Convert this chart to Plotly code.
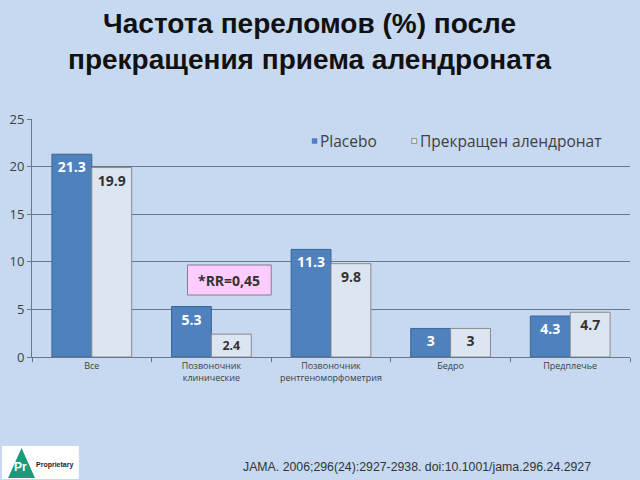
import plotly.graph_objects as go

categories = ["Все", "Позвоночник<br>клинические", "Позвоночник<br>рентгеноморфометрия", "Бедро", "Предплечье"]
placebo = [21.3, 5.3, 11.3, 3, 4.3]
stopped = [19.9, 2.4, 9.8, 3, 4.7]
placebo_labels = ["21.3", "5.3", "11.3", "3", "4.3"]
stopped_labels = ["19.9", "2.4", "9.8", "3", "4.7"]
series_names = ["Placebo", "Прекращен алендронат"]

BG = "#C6D9F1"
AX = "#6A7788"
C_PL = "#4F81BD"
C_ST = "#DCE6F2"

fig = go.Figure()
fig.add_trace(go.Bar(
    x=categories, y=placebo, name=series_names[0],
    marker=dict(color=C_PL, line=dict(color="#3A6598", width=1)),
    text=placebo_labels, textposition="inside", insidetextanchor="end",
    textfont=dict(color="white", size=14, family="Open Sans", weight="bold"),
    cliponaxis=False,
))
fig.add_trace(go.Bar(
    x=categories, y=stopped, name=series_names[1],
    marker=dict(color=C_ST, line=dict(color="#8A8A8A", width=1)),
    text=stopped_labels, textposition="inside", insidetextanchor="end",
    textfont=dict(color="#333333", size=14, family="Open Sans", weight="bold"),
    cliponaxis=False,
))

fig.update_layout(
    width=640, height=480,
    paper_bgcolor=BG, plot_bgcolor=BG,
    margin=dict(l=30, r=10, t=119, b=123),
    barmode="group", bargap=1/3, bargroupgap=0,
    showlegend=False,
)
fig.update_yaxes(range=[0, 25], dtick=5, showgrid=True, gridcolor=AX, gridwidth=1,
                 showline=True, linecolor=AX, ticks="outside", ticklen=4, tickcolor=AX,
                 tickfont=dict(size=13, color="#404040", family="Open Sans"), zeroline=False)
fig.update_xaxes(showline=True, linecolor=AX, ticks="outside", tickson="boundaries",
                 ticklen=4, tickcolor=AX,
                 tickfont=dict(size=9, color="#404040", family="Open Sans"))

def px(x):
    return (x - 30) / 600

def py(y):
    return (357 - y) / 238

def text(x, y, s, size, color, family, anchor="center"):
    fig.add_annotation(xref="paper", yref="paper", x=px(x), y=py(y),
                       xanchor=anchor, yanchor="middle", text=s, showarrow=False,
                       font=dict(size=size, color=color, family=family))

# Title
text(308, 41, "<b>Частота переломов (%) после<br>прекращения приема алендроната</b>",
     28, "#111111", "Liberation Sans")

# Legend (drawn manually)
fig.add_shape(type="rect", xref="paper", yref="paper",
              x0=px(311), x1=px(316), y0=py(143.5), y1=py(138.5),
              fillcolor=C_PL, line=dict(color=C_PL, width=0.5))
text(317, 141, series_names[0], 15.5, "#404040", "Open Sans", "left")
fig.add_shape(type="rect", xref="paper", yref="paper",
              x0=px(411), x1=px(416), y0=py(143.5), y1=py(138.5),
              fillcolor=C_ST, line=dict(color="#808080", width=0.8))
text(417, 141, series_names[1], 15.5, "#404040", "Open Sans", "left")

# RR box
fig.add_shape(type="rect", xref="paper", yref="paper",
              x0=px(186), x1=px(270), y0=py(295), y1=py(265),
              fillcolor="#FFCCFF", line=dict(color="#808080", width=1))
text(228, 280, "<b>*RR=0,45</b>", 14, "#333333", "Open Sans")

# Logo
fig.add_shape(type="rect", xref="paper", yref="paper",
              x0=px(0), x1=px(77), y0=py(479), y1=py(446),
              fillcolor="white", line=dict(width=0))
fig.add_shape(type="path", xref="paper", yref="paper",
              path="M {a},{b} L {c},{b} L {d},{e} Z".format(
                  a=px(6), b=py(478), c=px(33), d=px(19.5), e=py(448)),
              fillcolor="#1A9A7A", line=dict(width=0))
text(18, 467, "<b>Pr</b>", 12, "white", "Liberation Sans")
text(53, 465, "<b>Proprietary</b>", 7, "#222222", "Liberation Sans")

text(416, 467, "JAMA. 2006;296(24):2927-2938. doi:10.1001/jama.296.24.2927",
     12.3, "#333333", "Liberation Sans Narrow, Liberation Sans")

fig.write_html("out.html")
